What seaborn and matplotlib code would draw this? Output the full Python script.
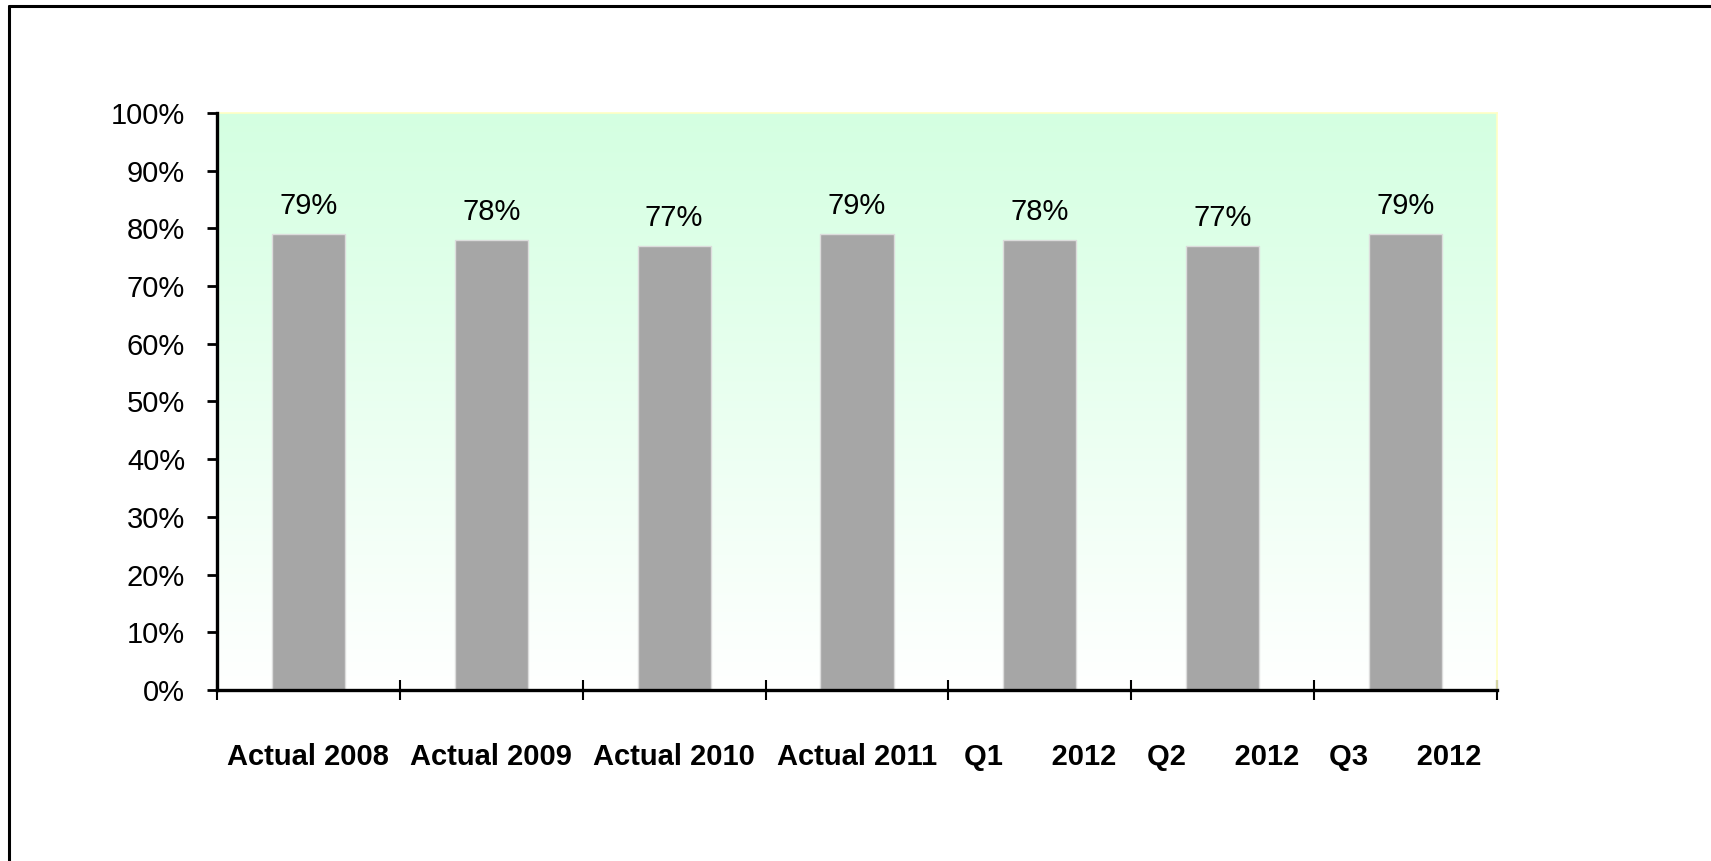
import numpy as np
import pandas as pd
import seaborn as sns
import matplotlib.pyplot as plt
from matplotlib.colors import LinearSegmentedColormap
from matplotlib.lines import Line2D
from matplotlib.ticker import PercentFormatter

# data
categories = ['Actual 2008', 'Actual 2009', 'Actual 2010', 'Actual 2011',
              'Q1      2012', 'Q2      2012', 'Q3      2012']
values = [0.79, 0.78, 0.77, 0.79, 0.78, 0.77, 0.79]

df = pd.DataFrame({'period': categories, 'share': values})

sns.set_style('white')
plt.rcParams['font.family'] = ['Liberation Sans Narrow', 'Liberation Sans', 'DejaVu Sans']
plt.rcParams['text.color'] = 'black'
plt.rcParams['xtick.color'] = 'black'
plt.rcParams['ytick.color'] = 'black'
plt.rcParams['xtick.labelcolor'] = 'black'
plt.rcParams['ytick.labelcolor'] = 'black'

fig = plt.figure(figsize=(17.11, 8.61), dpi=100)
ax = fig.add_axes([0.1268, 0.1986, 0.7481, 0.6702])

# gradient background (light green at top -> white at bottom)
cmap = LinearSegmentedColormap.from_list('bg', ['#ffffff', '#d4ffe1'])
grad = np.linspace(0, 1, 256).reshape(-1, 1)
ax.imshow(grad, cmap=cmap, aspect='auto', origin='lower',
          extent=(-0.5, len(categories) - 0.5, 0, 1), zorder=0)

sns.barplot(data=df, x='period', y='share', color='#a6a6a6', width=0.4,
            edgecolor='#dcdcdc', linewidth=1, saturation=1, ax=ax, zorder=2)

ax.bar_label(ax.containers[0], labels=[f'{v:.0%}' for v in values],
             padding=10, fontsize=21, color='black')

ax.set_xlim(-0.5, len(categories) - 0.5)
ax.set_ylim(0, 1)
ax.set_yticks(np.arange(0, 1.01, 0.1))
ax.yaxis.set_major_formatter(PercentFormatter(1.0, decimals=0))
ax.set_xlabel('')
ax.set_ylabel('')

# ticks at category boundaries, labels centred
ax.set_xticks(np.arange(-0.5, len(categories), 1.0))
ax.set_xticklabels([])
ax.set_xticks(np.arange(len(categories)), minor=True)
ax.set_xticklabels(categories, minor=True, fontsize=21, fontweight='bold')
ax.tick_params(axis='x', which='major', direction='inout', length=15, width=1.5,
               bottom=True, color='black')
ax.tick_params(axis='x', which='minor', length=0, pad=38, labelcolor='black')
ax.tick_params(axis='y', direction='out', length=7, width=2, left=True,
               labelsize=21, pad=16, color='black', labelcolor='black')

for side in ['left', 'bottom']:
    ax.spines[side].set_color('black')
    ax.spines[side].set_linewidth(2.4)
for side in ['top', 'right']:
    ax.spines[side].set_color('#ffffc4')
    ax.spines[side].set_linewidth(1.2)
ax.spines['left'].set_zorder(5)
ax.spines['bottom'].set_zorder(5)

# outer frame (top and left edges visible)
fig.add_artist(Line2D([9 / 1711, 1], [1 - 6 / 861, 1 - 6 / 861],
                      color='black', linewidth=2.2, transform=fig.transFigure))
fig.add_artist(Line2D([9 / 1711, 9 / 1711], [0, 1 - 6 / 861],
                      color='black', linewidth=2.2, transform=fig.transFigure))

fig.savefig('out.png', dpi=100)
